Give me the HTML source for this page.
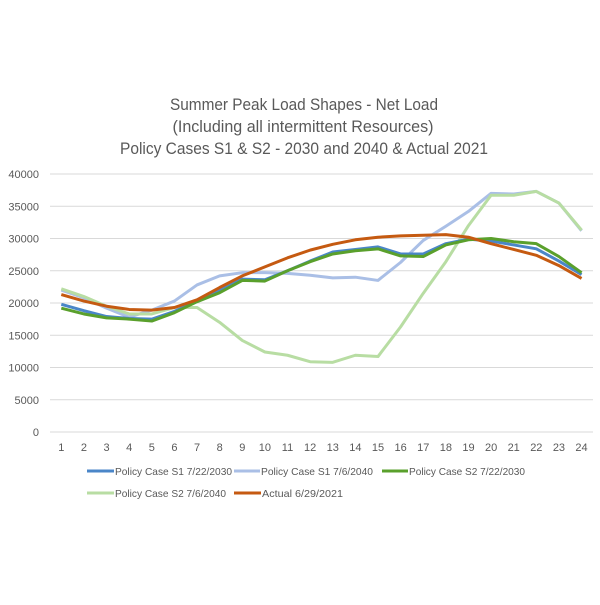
<!DOCTYPE html><html><head><style>body{margin:0;background:#fff}</style></head><body>
<svg width="600" height="600" xmlns="http://www.w3.org/2000/svg" font-family="Liberation Sans, sans-serif">
<g fill="#595959" font-size="16.5" text-anchor="middle">
<text x="304" y="110" textLength="268" lengthAdjust="spacingAndGlyphs">Summer Peak Load Shapes - Net Load</text>
<text x="303" y="132" textLength="261" lengthAdjust="spacingAndGlyphs">(Including all intermittent Resources)</text>
<text x="304" y="154" textLength="368" lengthAdjust="spacingAndGlyphs">Policy Cases S1 &amp; S2 - 2030 and 2040 &amp; Actual 2021</text>
</g>
<g id="grid" stroke="#d9d9d9" stroke-width="1"></g>
<g id="yl" fill="#595959" font-size="11" text-anchor="end"></g>
<g id="xl" fill="#595959" font-size="11" text-anchor="middle"></g>
<g id="series" fill="none" stroke-width="3" stroke-linejoin="round"></g>
<g font-size="10.5" fill="#595959">
<line x1="87" y1="471" x2="114" y2="471" stroke="#4A86C8" stroke-width="3"/><text x="115" y="475" textLength="117" lengthAdjust="spacingAndGlyphs">Policy Case S1 7/22/2030</text>
<line x1="234" y1="471" x2="260" y2="471" stroke="#AABFE6" stroke-width="3"/><text x="261" y="475" textLength="112" lengthAdjust="spacingAndGlyphs">Policy Case S1 7/6/2040</text>
<line x1="382" y1="471" x2="408" y2="471" stroke="#5AA02C" stroke-width="3"/><text x="409" y="475" textLength="116" lengthAdjust="spacingAndGlyphs">Policy Case S2 7/22/2030</text>
<line x1="87" y1="493" x2="114" y2="493" stroke="#B8DDA3" stroke-width="3"/><text x="115" y="497" textLength="111" lengthAdjust="spacingAndGlyphs">Policy Case S2 7/6/2040</text>
<line x1="234" y1="493" x2="261" y2="493" stroke="#C55A11" stroke-width="3"/><text x="262" y="497" textLength="81" lengthAdjust="spacingAndGlyphs">Actual 6/29/2021</text>
</g>
</svg>
<script>
const ns="http://www.w3.org/2000/svg";
function el(p,t,a,txt){const e=document.createElementNS(ns,t);for(const k in a)e.setAttribute(k,a[k]);if(txt!==undefined)e.textContent=txt;document.getElementById(p).appendChild(e);}
const Y=v=>432-v*6.45, X=i=>61.3+i*22.62;
for(let v=0;v<=40;v+=5){el("grid","line",{x1:50,x2:593,y1:Y(v),y2:Y(v)});el("yl","text",{x:39,y:Y(v)+4},v*1000);}
for(let i=0;i<24;i++)el("xl","text",{x:X(i),y:451},i+1);
const S=[
["#AABFE6",[22,20.8,19.2,17.8,18.9,20.3,22.8,24.2,24.7,24.7,24.6,24.3,23.9,24,23.5,26.3,29.7,31.9,34.2,37,36.9,37.3,35.5,31.2]],
["#B8DDA3",[22.2,21,19.5,18.3,18.3,19.3,19.3,17,14.2,12.4,11.9,10.9,10.8,11.9,11.7,16.3,21.5,26.4,32,36.7,36.7,37.3,35.5,31.3]],
["#4A86C8",[19.8,18.8,17.9,17.6,17.5,18.7,20.3,21.9,23.7,23.6,25,26.5,27.9,28.3,28.7,27.6,27.6,29.2,29.9,29.6,29,28.4,26.5,24.4]],
["#5AA02C",[19.2,18.3,17.7,17.5,17.2,18.5,20.2,21.6,23.5,23.4,25,26.4,27.6,28.1,28.4,27.3,27.2,29,29.8,30,29.5,29.2,27.2,24.7]],
["#C55A11",[21.3,20.3,19.5,19,18.9,19.3,20.5,22.4,24.2,25.6,27,28.2,29.1,29.8,30.2,30.4,30.5,30.6,30.2,29.2,28.3,27.4,25.8,23.8]]];
for(const [c,d] of S)el("series","polyline",{stroke:c,points:d.map((v,i)=>X(i)+","+Y(v)).join(" ")});
</script>
</body></html>
